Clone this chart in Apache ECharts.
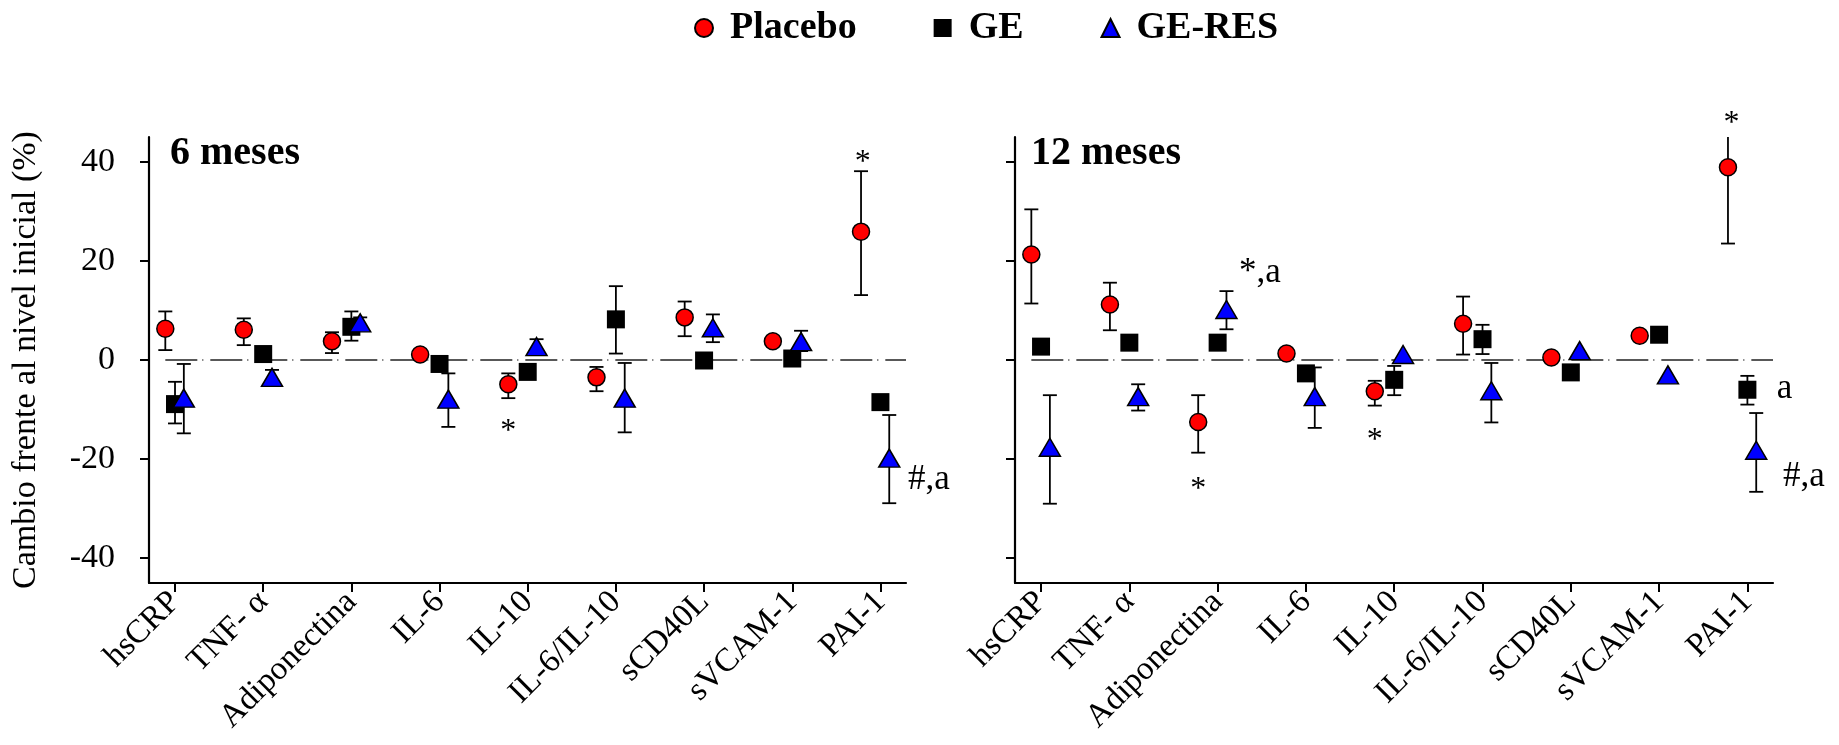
<!DOCTYPE html>
<html>
<head>
<meta charset="utf-8">
<script src="https://cdn.jsdelivr.net/npm/echarts@6/dist/echarts.min.js"></script>
<style>html,body{margin:0;background:#fff}#chart{width:1839px;height:745px}</style>
</head>
<body>
<div id="chart"></div>
<script>
const categories = ['hsCRP', 'TNF- α', 'Adiponectina', 'IL-6', 'IL-10', 'IL-6/IL-10', 'sCD40L', 'sVCAM-1', 'PAI-1'];
const yTicks = [-40, -20, 0, 20, 40];

// 6 meses
const placebo6 = [6.3, 6.1, 3.8, 1.1, -4.9, -3.5, 8.6, 3.8, 25.9];
const placebo6Lo = [2.0, 3.0, 1.4, null, -7.7, -6.3, 4.8, null, 13.1];
const placebo6Hi = [9.8, 8.4, 5.6, null, -2.7, -1.4, 11.8, null, 38.1];
const ge6 = [-8.9, 1.2, 6.7, -0.8, -2.4, 8.2, -0.1, 0.3, -8.5];
const ge6Lo = [-12.8, null, 3.9, null, null, 1.3, null, null, null];
const ge6Hi = [-4.4, null, 9.8, null, null, 14.9, null, null, null];
const geres6 = [-7.7, -3.5, 7.5, -7.9, 2.7, -7.7, 6.5, 3.7, -19.8];
const geres6Lo = [-14.8, -5.0, 6.1, -13.5, 1.6, -14.6, 3.6, 1.8, -28.9];
const geres6Hi = [-0.8, -2.0, 8.6, -2.7, 4.2, -0.6, 9.2, 5.9, -11.1];

// 12 meses
const placebo12 = [21.3, 11.2, -12.5, 1.3, -6.3, 7.3, 0.5, 4.9, 38.9];
const placebo12Lo = [11.4, 6.0, -18.7, null, -9.2, 1.1, null, null, 23.5];
const placebo12Hi = [30.4, 15.6, -7.1, null, -4.2, 12.8, null, null, 54.3];
const ge12 = [2.7, 3.5, 3.5, -2.7, -4.0, 4.2, -2.5, 5.1, -6.0];
const ge12Lo = [null, null, null, null, -7.1, 1.2, null, null, -9.0];
const ge12Hi = [null, null, null, null, -1.2, 7.1, null, null, -3.2];
const geres12 = [-17.6, -7.4, 10.2, -7.4, 1.1, -6.2, 1.9, -3.0, -18.2];
const geres12Lo = [-29.0, -10.2, 6.2, -13.7, null, -12.6, null, null, -26.6];
const geres12Hi = [-7.1, -4.9, 13.9, -1.5, null, -0.6, null, null, -10.7];

// significance marks: [x, y, text]
const stars6 = [[7.8, 41.0, '*'], [3.78, -13.3, '*']];
const notes6 = [[8.55, -24.2, '#,a']];
const stars12 = [[1.78, -25.0, '*'], [3.78, -15.0, '*'], [7.82, 48.9, '*']];
const notes12 = [[2.48, 17.6, '*,a'], [8.42, -5.9, 'a'], [8.64, -23.5, '#,a']];

const serif = '"Liberation Serif", "Times New Roman", serif';
const xMin = -0.295, xMax = 8.29;
const dodge = { Placebo: -0.22, GE: 0, 'GE-RES': 0.1 };

function xPos(i, group) {
  // first placebo is pushed right so it clears the y axis
  return Math.max(i + dodge[group], xMin + 0.185);
}

function points(vals, group) {
  return vals.map((v, i) => [xPos(i, group), v]);
}

function bars(lo, hi, group) {
  const out = [];
  lo.forEach((l, i) => {
    if (l != null) out.push([xPos(i, group), l, hi[i]]);
  });
  return out;
}

function renderErr(params, api) {
  const x = api.value(0);
  const p1 = api.coord([x, api.value(1)]);
  const p2 = api.coord([x, api.value(2)]);
  const w = 7;
  const style = { stroke: '#000', lineWidth: 1.8 };
  return {
    type: 'group',
    children: [
      { type: 'line', shape: { x1: p1[0], y1: p1[1], x2: p2[0], y2: p2[1] }, style: style },
      { type: 'line', shape: { x1: p1[0] - w, y1: p1[1], x2: p1[0] + w, y2: p1[1] }, style: style },
      { type: 'line', shape: { x1: p2[0] - w, y1: p2[1], x2: p2[0] + w, y2: p2[1] }, style: style }
    ]
  };
}

const markerStyle = {
  Placebo: { symbol: 'circle', symbolSize: 17, itemStyle: { color: '#ff0000', borderColor: '#000', borderWidth: 1.5, opacity: 1 } },
  GE: { symbol: 'rect', symbolSize: 18, itemStyle: { color: '#000', borderColor: '#000', borderWidth: 0, opacity: 1 } },
  'GE-RES': { symbol: 'triangle', symbolSize: [21, 18], itemStyle: { color: '#0000ff', borderColor: '#000', borderWidth: 1.5, opacity: 1 } }
};

function panelSeries(idx, groups, stars, notes) {
  const s = [];
  s.push({
    type: 'line', xAxisIndex: idx, yAxisIndex: idx, silent: true, symbol: 'none', z: 1,
    data: [[xPos(0, 'Placebo'), 0], [xMax, 0]],
    lineStyle: { color: '#222', width: 1.3, type: [32, 5, 1, 7] }
  });
  groups.forEach(g => {
    s.push({
      type: 'custom', xAxisIndex: idx, yAxisIndex: idx, silent: true, clip: true, z: 2,
      renderItem: renderErr, encode: { x: 0, y: [1, 2] },
      data: bars(g.lo, g.hi, g.name)
    });
  });
  groups.forEach(g => {
    s.push(Object.assign({
      name: g.name, type: 'scatter', xAxisIndex: idx, yAxisIndex: idx, z: 3,
      data: points(g.vals, g.name)
    }, markerStyle[g.name]));
  });
  const label = { show: true, position: 'inside', color: '#000', opacity: 1, fontFamily: serif, formatter: p => p.value[2] };
  s.push({
    type: 'scatter', xAxisIndex: idx, yAxisIndex: idx, silent: true, clip: false, z: 4,
    symbolSize: 1, itemStyle: { color: 'rgba(0,0,0,0)', opacity: 1 },
    label: Object.assign({}, label, { fontSize: 32, offset: [0, 6] }), data: stars
  });
  s.push({
    type: 'scatter', xAxisIndex: idx, yAxisIndex: idx, silent: true, clip: false, z: 4,
    symbolSize: 1, itemStyle: { color: 'rgba(0,0,0,0)', opacity: 1 },
    label: Object.assign({}, label, { fontSize: 35 }), data: notes
  });
  return s;
}

function xAxis(idx) {
  return {
    type: 'value', gridIndex: idx, min: xMin, max: xMax,
    axisLine: { onZero: false, lineStyle: { color: '#000', width: 2.2 } },
    axisTick: { show: true, length: 9, customValues: categories.map((c, i) => i), lineStyle: { color: '#000', width: 2 } },
    axisLabel: {
      customValues: categories.map((c, i) => i), formatter: v => categories[Math.round(v)],
      rotate: 45, margin: 14, color: '#000', fontFamily: serif, fontSize: 33
    },
    splitLine: { show: false }
  };
}

function yAxis(idx, showLabels) {
  return {
    type: 'value', gridIndex: idx, min: -45, max: 45,
    name: showLabels ? 'Cambio frente al nivel inicial (%)' : '',
    nameLocation: 'middle', nameGap: 106,
    nameTextStyle: { color: '#000', fontFamily: serif, fontSize: 34 },
    axisLine: { show: true, onZero: false, lineStyle: { color: '#000', width: 2.2 } },
    axisTick: { show: true, length: 9, customValues: yTicks, lineStyle: { color: '#000', width: 2 } },
    axisLabel: { show: showLabels, customValues: yTicks, margin: 34, color: '#000', fontFamily: serif, fontSize: 34 },
    splitLine: { show: false }
  };
}

const chart = echarts.init(document.getElementById('chart'));

chart.setOption({
  backgroundColor: '#fff',
  animation: false,
  title: [
    { text: '6 meses', left: 170, top: 134, padding: 0, textStyle: { fontFamily: serif, fontSize: 40, fontWeight: 'bold', color: '#000' } },
    { text: '12 meses', left: 1031, top: 134, padding: 0, textStyle: { fontFamily: serif, fontSize: 40, fontWeight: 'bold', color: '#000' } }
  ],
  legend: {
    left: 689, top: 4, itemWidth: 18, itemHeight: 18, itemGap: 77, selectedMode: false,
    data: [{ name: 'Placebo', icon: 'circle' }, { name: 'GE', icon: 'rect' }, { name: 'GE-RES', icon: 'triangle' }],
    textStyle: { fontFamily: serif, fontSize: 38, fontWeight: 'bold', color: '#000', padding: [0, 0, 0, 12] }
  },
  grid: [
    { left: 149, top: 137, width: 757, height: 446 },
    { left: 1015, top: 137, width: 758, height: 446 }
  ],
  xAxis: [xAxis(0), xAxis(1)],
  yAxis: [yAxis(0, true), yAxis(1, false)],
  series: [].concat(
    panelSeries(0, [
      { name: 'Placebo', vals: placebo6, lo: placebo6Lo, hi: placebo6Hi },
      { name: 'GE', vals: ge6, lo: ge6Lo, hi: ge6Hi },
      { name: 'GE-RES', vals: geres6, lo: geres6Lo, hi: geres6Hi }
    ], stars6, notes6),
    panelSeries(1, [
      { name: 'Placebo', vals: placebo12, lo: placebo12Lo, hi: placebo12Hi },
      { name: 'GE', vals: ge12, lo: ge12Lo, hi: ge12Hi },
      { name: 'GE-RES', vals: geres12, lo: geres12Lo, hi: geres12Hi }
    ], stars12, notes12)
  )
});
</script>
</body>
</html>
